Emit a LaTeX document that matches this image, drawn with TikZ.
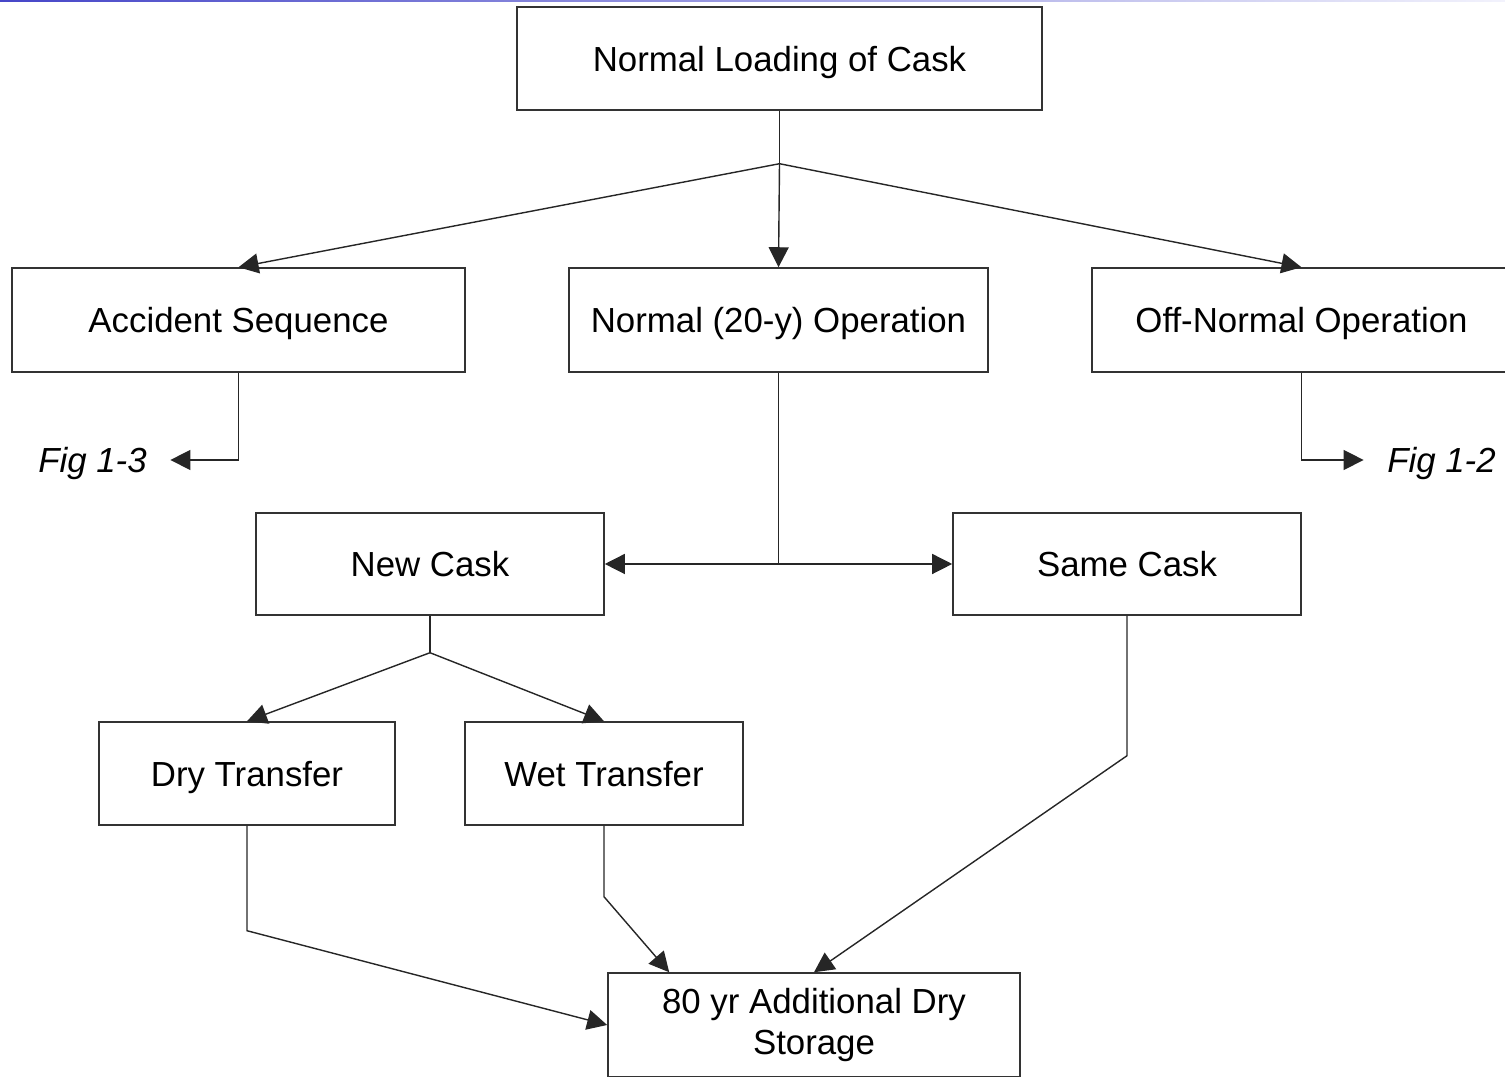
\documentclass[tikz,border=0pt]{standalone}
\usepackage{fontspec}
\setmainfont{Liberation Sans}
\usetikzlibrary{
    arrows.meta,   % Triangle tips
    positioning,
    calc
}
\definecolor{rulestart}{RGB}{70,70,200}
\definecolor{ruleend}{RGB}{242,242,252}

\begin{document}
\begin{tikzpicture}[
    x=0.01cm, y=-0.01cm,
    font=\fontsize{9.9}{11.4}\selectfont,
    box/.style={draw=black!80, line width=0.4pt, minimum height=1.03cm,
                inner sep=0pt, align=center},
    oneline/.style={text height=0.85em, text depth=0.134em},
    figref/.style={oneline, font=\fontsize{9.9}{11.4}\selectfont\itshape, inner xsep=0.23cm},
    conn/.style={draw=black!85, line width=0.4pt},
    arr/.style={conn, -{Triangle[length=0.2cm, width=0.2cm]}}
]
    \useasboundingbox (0,0) rectangle (1505,1077);
    \shade[left color=rulestart, right color=ruleend] (0,0) rectangle (1505,1.5);

    % --- Loading ---
    \node[box, oneline, minimum width=5.25cm] (load) at (779.5,58.5) {Normal Loading of Cask};

    % --- Operation branches ---
    \node[box, oneline, minimum width=4.53cm, minimum height=1.04cm] (accident) at (238.5,320) {Accident Sequence};
    \node[box, oneline, minimum width=4.19cm, minimum height=1.04cm] (normop) at (778.5,320) {Normal (20-y) Operation};
    \node[box, oneline, minimum width=4.19cm, minimum height=1.04cm] (offnormal) at (1301.5,320) {Off-Normal Operation};

    \node[figref] (fig13) at (92.5,460) {Fig 1-3};
    \node[figref] (fig12) at (1441.5,460) {Fig 1-2};

    % --- Cask choice ---
    \node[box, oneline, minimum width=3.48cm, minimum height=1.02cm] (newcask) at (430,564) {New Cask};
    \node[box, oneline, minimum width=3.48cm, minimum height=1.02cm] (samecask) at (1127,564) {Same Cask};

    % --- Transfer ---
    \node[box, oneline, minimum width=2.96cm] (dry) at (247,773.5) {Dry Transfer};
    \node[box, oneline, minimum width=2.78cm] (wet) at (604,773.5) {Wet Transfer};

    % --- Storage ---
    \node[box, minimum width=4.12cm, minimum height=1.04cm] (storage) at (814,1025)
        {80 yr Additional Dry\\Storage};

    % --- Connectors ---
    \draw[conn] (load.south) -- ++(0,53) coordinate (split1);
    \draw[arr] (split1) -- (accident.north);
    \draw[arr] (split1) -- (normop.north);
    \draw[arr] (split1) -- (offnormal.north);

    \draw[arr] (accident.south) |- (fig13.east);
    \draw[arr] (offnormal.south) |- (fig12.west);

    \coordinate (split2) at (normop.south |- newcask.east);
    \draw[conn] (normop.south) -- (split2);
    \draw[arr] (split2) -- (newcask.east);
    \draw[arr] (split2) -- (samecask.west);

    \draw[conn] (newcask.south) -- ++(0,37) coordinate (split3);
    \draw[arr] (split3) -- (dry.north);
    \draw[arr] (split3) -- (wet.north);

    \draw[arr] (dry.south) -- ++(0,105) -- (storage.west);
    \draw[arr] (wet.south) -- ++(0,71) -- ([xshift=0.62cm]storage.north west);
    \draw[arr] (samecask.south) -- ++(0,140) -- (storage.north);
\end{tikzpicture}
\end{document}
